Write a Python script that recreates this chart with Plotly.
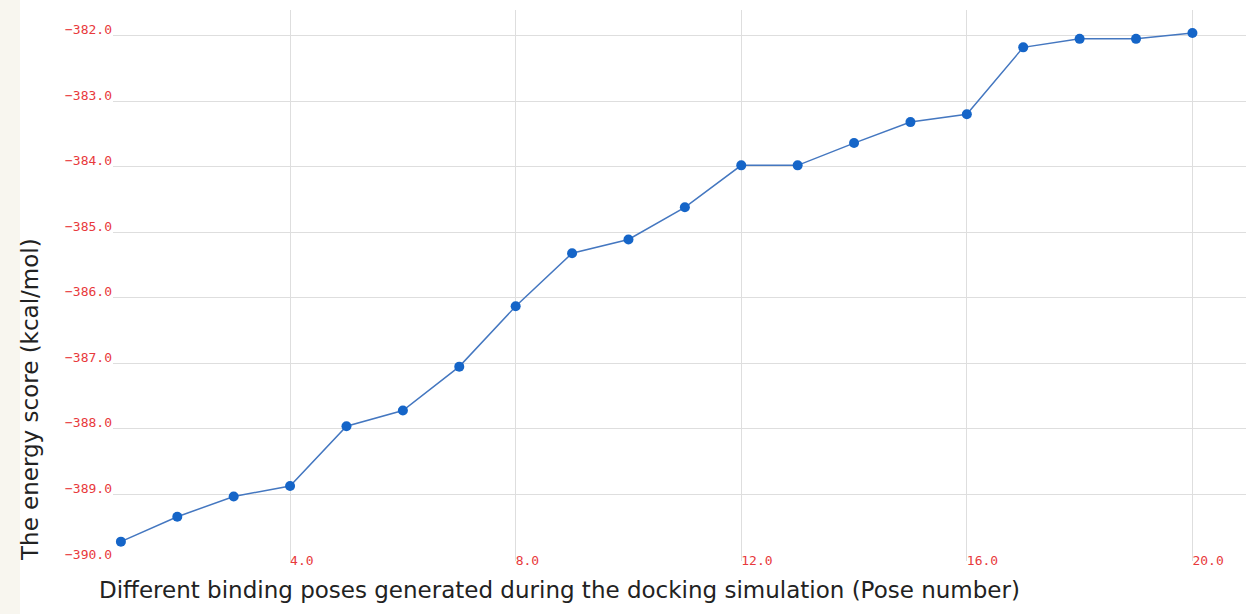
import plotly.graph_objects as go

poses = list(range(1, 21))
energy = [-389.72, -389.34, -389.03, -388.87, -387.96, -387.72, -387.05, -386.13,
          -385.32, -385.11, -384.62, -383.98, -383.98, -383.64, -383.32, -383.20,
          -382.18, -382.05, -382.05, -381.96]
x_title = "Different binding poses generated during the docking simulation (Pose number)"
y_title = "The energy score (kcal/mol)"

W, H = 1246, 614
L, R, T, B = 113, 0, 10, 53
pw = W - L - R
ph = H - T - B

fig = go.Figure()
fig.add_trace(go.Scatter(
    x=poses, y=energy, mode="lines+markers",
    line=dict(color="#4477c0", width=1.5),
    marker=dict(color="#1565c8", size=10),
    showlegend=False,
))

tickfont = dict(family="DejaVu Sans Mono", size=13, color="#e8393c")

fig.update_layout(
    width=W, height=H,
    margin=dict(l=L, r=R, t=T, b=B, pad=0),
    paper_bgcolor="white", plot_bgcolor="white",
    xaxis=dict(
        range=[0.86, 20.95], tick0=0, dtick=4, tickformat=".1f",
        showgrid=True, gridcolor="#dedede", gridwidth=1,
        zeroline=False, showline=False, ticks="",
        tickfont=tickfont, ticklabelposition="outside right",
        ticklabelstandoff=-10,
    ),
    yaxis=dict(
        range=[-390.015, -381.61], tick0=-390, dtick=1, tickformat=".1f",
        showgrid=True, gridcolor="#dedede", gridwidth=1,
        zeroline=False, showline=False, ticks="",
        tickfont=tickfont, ticklabelshift=-6, ticklabelstandoff=0,
    ),
    font=dict(family="DejaVu Sans", color="#222222"),
    shapes=[dict(type="rect", xref="paper", yref="paper",
                 x0=(0 - L) / pw, x1=(20 - L) / pw, y0=-1, y1=2,
                 fillcolor="#f8f6ef", line=dict(width=0), layer="below")],
    annotations=[
        dict(text=x_title, xref="paper", yref="paper",
             x=(97 - L) / pw, y=(H - B - 590) / ph, xanchor="left", yanchor="middle",
             showarrow=False, font=dict(family="DejaVu Sans", size=23, color="#222222")),
        dict(text=y_title, xref="paper", yref="paper", textangle=-90,
             x=(30 - L) / pw, y=(H - B - 400) / ph, xanchor="center", yanchor="middle",
             showarrow=False, font=dict(family="DejaVu Sans", size=23, color="#222222")),
    ],
)

fig.write_html("out.html", config={"displayModeBar": False},
               post_script="document.body.style.margin='0';")
